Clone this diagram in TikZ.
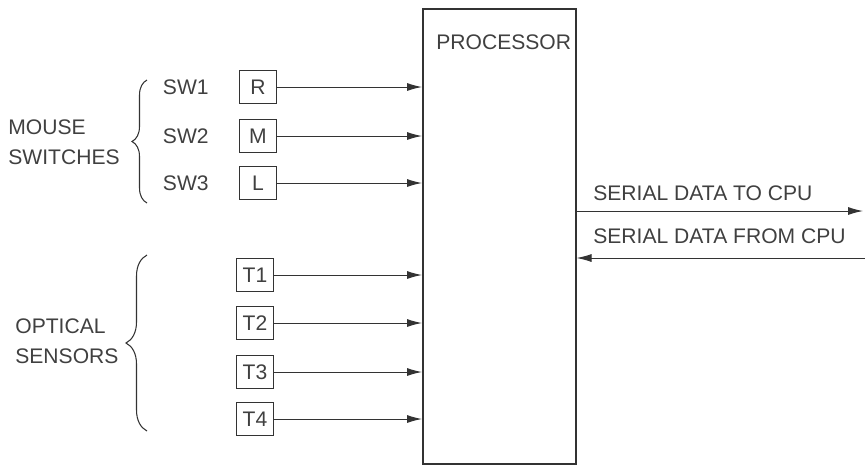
\documentclass[tikz,border=0pt]{standalone}
\usepackage{fontspec}
\setmainfont{Liberation Sans}
\usetikzlibrary{positioning,arrows.meta,decorations.pathreplacing}

\begin{document}
\begin{tikzpicture}[x=0.02cm, y=-0.02cm,
  txt/.style={font=\fontsize{12}{17}\selectfont, text=black!75, inner sep=0pt},
  sigbox/.style={draw=black!80, line width=1.1pt, minimum width=0.74cm, minimum height=0.66cm, inner sep=0pt, font=\fontsize{12}{14}\selectfont, text=black!75},
  wire/.style={draw=black!80, line width=0.55pt, -{Latex[length=3mm, width=1.6mm]}},
  brc/.style={draw=black!80, line width=0.6pt, decorate}]
  \useasboundingbox (0,0) rectangle (865,468);
  % processor
  \node[draw=black!80, line width=0.9pt, minimum width=3.06cm, minimum height=9.1cm, anchor=north west, inner sep=0pt] (proc) at (422,8) {};
  \node[txt, anchor=west] (proctxt) at (436,42) {PROCESSOR};
  % mouse switches
  \foreach \n/\k/\y in {1/R/87,2/M/136,3/L/183} {
    \node[sigbox] (sw\k) at (258,\y) {\k};
    \node[txt, anchor=east] (swlab\n) at (209,\y) {SW\n};
    \draw[wire] (sw\k.east) -- (sw\k.east -| proc.west);
  }
  \draw[brc, decoration={brace, amplitude=0.3cm}] (147,203) -- (147,80);
  \node[txt, anchor=west, align=left] (mouse) at (8,142) {MOUSE\\SWITCHES};
  % optical sensors
  \foreach \n/\y in {1/275,2/323,3/372,4/419} {
    \node[sigbox] (t\n) at (255,\y) {T\n};
    \draw[wire] (t\n.east) -- (t\n.east -| proc.west);
  }
  \draw[brc, decoration={brace, amplitude=0.42cm}] (147,431) -- (147,255);
  \node[txt, anchor=west, align=left] (optical) at (15,341) {OPTICAL\\SENSORS};
  % serial lines
  \coordinate (cpuout) at (863,211);
  \coordinate (cpuin) at (865,258);
  \draw[wire] (proc.east |- cpuout) -- (cpuout);
  \draw[wire] (cpuin) -- (cpuin -| proc.east);
  \node[txt, anchor=west] (totxt) at (593,193) {SERIAL DATA TO CPU};
  \node[txt, anchor=west] (fromtxt) at (593,236) {SERIAL DATA FROM CPU};
\end{tikzpicture}
\end{document}
